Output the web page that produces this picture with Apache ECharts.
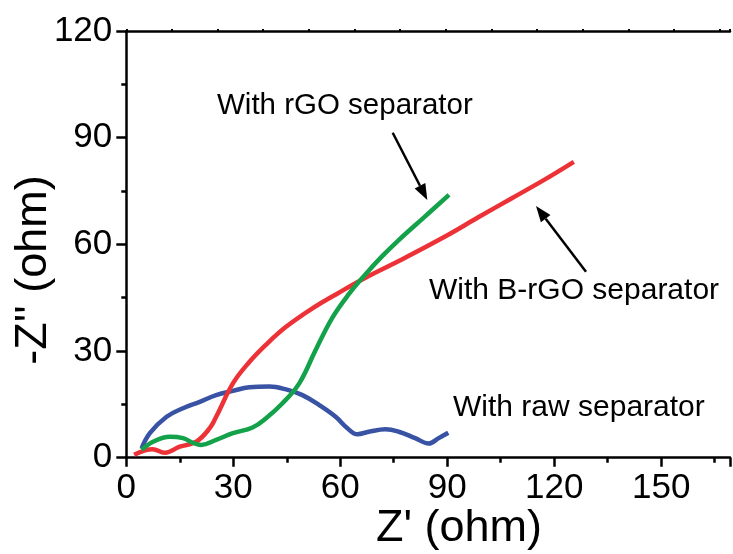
<!DOCTYPE html>
<html>
<head>
<meta charset="utf-8">
<script src="https://cdn.jsdelivr.net/npm/echarts@6/dist/echarts.min.js"></script>
<style>
html,body{margin:0;padding:0;background:#fff;overflow:hidden;}
#chart{width:733px;height:554px;}
</style>
</head>
<body>
<div id="chart"></div>
<script>
// Data
var rawX = [4.3, 6.6, 11.3, 15.9, 20.6, 25.2, 29.9, 34.5, 40.1, 44.8, 49.4, 54.1, 58.7, 62.0, 64.8, 68.0, 72.7, 76.4, 81.0, 84.8, 87.6, 90.3];
var rawY = [2.6, 6.9, 11.5, 13.9, 15.7, 17.6, 18.8, 19.8, 20.0, 19.2, 17.6, 14.8, 11.5, 8.3, 6.6, 7.3, 8.0, 7.3, 5.5, 4.0, 5.5, 7.0];

var bX = [2.2, 7.4, 10.8, 15.0, 19.6, 23.4, 25.2, 29.9, 34.5, 39.2, 44.8, 52.2, 59.6, 67.1, 76.4, 89.4, 98.7, 108.0, 117.3, 125.5];
var bY = [0.8, 2.4, 1.4, 3.1, 4.5, 8.3, 11.5, 20.9, 26.9, 31.8, 36.8, 42.0, 46.4, 50.6, 55.3, 62.2, 67.6, 72.9, 78.2, 83.2];

var gX = [4.3, 7.5, 12.2, 15.9, 18.7, 21.0, 25.2, 29.9, 35.4, 39.2, 43.8, 48.5, 53.1, 57.8, 62.4, 67.1, 71.7, 76.4, 83.5, 90.5];
var gY = [2.2, 4.5, 5.9, 5.5, 4.2, 3.6, 5.0, 6.9, 8.5, 11.1, 15.3, 20.9, 30.3, 39.4, 46.0, 51.6, 56.6, 61.2, 67.6, 73.9];

var xTicks = [0, 30, 60, 90, 120, 150];
var yTicks = [0, 30, 60, 90, 120];
var seriesNames = ['With raw separator', 'With B-rGO separator', 'With rGO separator'];

function pairs(xs, ys) { return xs.map(function (x, i) { return [x, ys[i]]; }); }

var FONT = '"Liberation Sans", Arial, sans-serif';
var chart = echarts.init(document.getElementById('chart'), null, {renderer: 'canvas'});

function arrow(x1, y1, x2, y2) {
  var ang = Math.atan2(y2 - y1, x2 - x1);
  var L = 16, W = 6;
  var bx = x2 - L * Math.cos(ang), by = y2 - L * Math.sin(ang);
  var px = -Math.sin(ang) * W, py = Math.cos(ang) * W;
  return [
    {type: 'line', shape: {x1: x1, y1: y1, x2: bx, y2: by}, style: {stroke: '#000', lineWidth: 2.5}},
    {type: 'polygon', shape: {points: [[x2, y2], [bx + px, by + py], [bx - px, by - py]]}, style: {fill: '#000'}}
  ];
}

var graphics = [
  {type: 'text', x: 217, y: 106, style: {text: 'With rGO separator', font: '29.5px ' + FONT, fill: '#000', align: 'left', verticalAlign: 'middle'}},
  {type: 'text', x: 429, y: 291, style: {text: 'With B-rGO separator', font: '30px ' + FONT, fill: '#000', align: 'left', verticalAlign: 'middle'}},
  {type: 'text', x: 453, y: 408, style: {text: 'With raw separator', font: '30px ' + FONT, fill: '#000', align: 'left', verticalAlign: 'middle'}},
  {type: 'text', x: 459, y: 529, style: {text: "Z' (ohm)", font: '45px ' + FONT, fill: '#000', align: 'center', verticalAlign: 'middle'}},
  {type: 'text', x: 34, y: 270, rotation: Math.PI / 2, style: {text: "-Z'' (ohm)", font: '45px ' + FONT, fill: '#000', align: 'center', verticalAlign: 'middle'}}
].concat(arrow(392.7, 132.7, 427.3, 200)).concat(arrow(586, 271.7, 536, 206));

var axisCommon = {
  axisLine: {show: true, lineStyle: {color: '#000', width: 2.5}},
  splitLine: {show: false},
  minorSplitLine: {show: false}
};

chart.setOption({
  animation: false,
  backgroundColor: '#fff',
  grid: {left: 126.3, top: 31, right: 0, bottom: 96.3, containLabel: false},
  xAxis: [
    Object.assign({
      type: 'value', position: 'bottom', min: 0, max: 169.3, interval: 30,
      axisTick: {show: true, length: 9, lineStyle: {color: '#000', width: 2.5}},
      minorTick: {show: true, splitNumber: 2, length: 5, lineStyle: {color: '#000', width: 2.5}},
      axisLabel: {fontFamily: 'Liberation Sans', fontSize: 35, color: '#000', margin: 13,
        formatter: function (v) { return xTicks.indexOf(v) >= 0 ? String(v) : ''; }}
    }, axisCommon),
    Object.assign({
      type: 'value', position: 'top', min: 0, max: 169.3, interval: 12.8,
      axisTick: {show: true, length: 2, lineStyle: {color: '#000', width: 2}},
      axisLabel: {show: false}
    }, axisCommon)
  ],
  yAxis: [Object.assign({
    type: 'value', min: 0, max: 120, interval: 30,
    axisTick: {show: true, length: 10, lineStyle: {color: '#000', width: 2.5}},
    minorTick: {show: true, splitNumber: 2, length: 5, lineStyle: {color: '#000', width: 2.5}},
    axisLabel: {fontFamily: 'Liberation Sans', fontSize: 35, color: '#000', margin: 14,
      formatter: function (v) { return yTicks.indexOf(v) >= 0 ? String(v) : ''; }}
  }, axisCommon)],
  series: [
    {name: seriesNames[0], type: 'line', xAxisIndex: 0, data: pairs(rawX, rawY), smooth: 0.4, showSymbol: false, lineStyle: {color: '#3953a4', width: 4.5}, z: 2},
    {name: seriesNames[1], type: 'line', xAxisIndex: 0, data: pairs(bX, bY), smooth: 0.4, showSymbol: false, lineStyle: {color: '#ed3237', width: 4.5}, z: 3},
    {name: seriesNames[2], type: 'line', xAxisIndex: 0, data: pairs(gX, gY), smooth: 0.4, showSymbol: false, lineStyle: {color: '#13a14a', width: 4.5}, z: 4}
  ],
  graphic: graphics
});
</script>
</body>
</html>
